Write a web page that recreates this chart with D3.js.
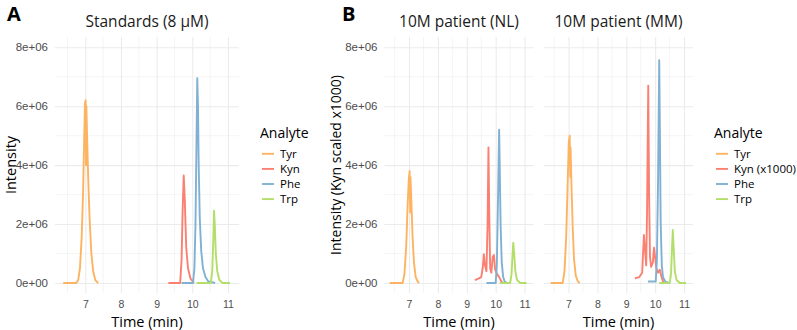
<!DOCTYPE html>
<html>
<head>
<meta charset="utf-8">
<script src="https://cdn.jsdelivr.net/npm/d3@7"></script>
<style>
body { margin: 0; background: #fff; }
svg { display: block; font-family: "Open Sans", sans-serif; }
</style>
</head>
<body>
<div id="chart"></div>
<script>
// ----------------------------------------------------------
// DATA -----------------------------------------------------
// ----------------------------------------------------------
var analytes = ["Tyr", "Kyn", "Phe", "Trp"];
var labels_a = ["Tyr", "Kyn", "Phe", "Trp"];
var labels_b = ["Tyr", "Kyn (x1000)", "Phe", "Trp"];
var x_ticks = [7, 8, 9, 10, 11];
var y_ticks = [0, 2e6, 4e6, 6e6, 8e6];

// traces: [time (min), intensity (x1e6)]
var std_tyr = [[6.38,0],[6.75,0],[6.80,0.1],[6.85,0.5],[6.90,1.6],[6.94,3.2],[6.97,5.0],[6.99,6.1],[7.01,6.2],[7.02,4.0],[7.03,6.0],[7.05,5.0],[7.08,3.6],[7.12,2.2],[7.17,1.0],[7.22,0.4],[7.28,0.1],[7.36,0]];
var std_kyn = [[9.33,0],[9.66,0],[9.70,0.8],[9.73,2.5],[9.76,3.65],[9.79,2.8],[9.83,1.2],[9.88,0.5],[9.95,0.15],[10.05,0]];
var std_phe = [[9.70,0],[10.02,0],[10.06,0.5],[10.09,2.0],[10.12,5.0],[10.14,6.95],[10.16,6.0],[10.18,4.0],[10.21,2.2],[10.25,1.1],[10.30,0.5],[10.37,0.2],[10.45,0.05],[10.64,0]];
var std_trp = [[10.12,0],[10.52,0],[10.56,0.4],[10.59,1.5],[10.61,2.45],[10.63,2.0],[10.66,1.0],[10.70,0.4],[10.76,0.1],[10.85,0],[11.06,0]];

var nl_tyr = [[6.33,0],[6.78,0],[6.84,0.3],[6.90,1.2],[6.95,2.6],[6.99,3.5],[7.02,3.8],[7.04,2.4],[7.05,3.6],[7.08,2.8],[7.12,1.6],[7.17,0.7],[7.23,0.2],[7.30,0.05],[7.35,0]];
var nl_kyn = [[9.28,0.1],[9.40,0.15],[9.50,0.2],[9.55,0.5],[9.59,0.98],[9.63,0.6],[9.68,0.4],[9.72,2.0],[9.75,4.6],[9.78,2.2],[9.81,0.5],[9.85,0.35],[9.90,0.9],[9.94,0.95],[9.98,0.45],[10.05,0.3],[10.12,0.2],[10.20,0.05],[10.25,0]];
var nl_phe = [[9.68,0],[10.00,0],[10.04,0.6],[10.08,2.8],[10.12,5.2],[10.14,4.0],[10.17,2.0],[10.21,0.7],[10.26,0.2],[10.31,0.05],[10.40,0]];
var nl_trp = [[10.14,0],[10.50,0],[10.55,0.3],[10.58,0.9],[10.61,1.37],[10.64,1.0],[10.68,0.4],[10.74,0.1],[10.85,0],[11.07,0]];

var mm_tyr = [[6.38,0],[6.80,0],[6.86,0.4],[6.92,1.6],[6.97,3.4],[7.01,4.8],[7.04,5.0],[7.06,3.6],[7.07,4.6],[7.10,3.4],[7.14,2.0],[7.19,0.8],[7.25,0.25],[7.32,0.05],[7.39,0]];
var mm_kyn = [[9.30,0.16],[9.45,0.2],[9.55,0.35],[9.58,1.0],[9.61,1.63],[9.65,1.1],[9.69,0.6],[9.72,2.5],[9.76,6.7],[9.79,3.0],[9.82,0.9],[9.86,0.55],[9.92,0.7],[9.96,1.2],[9.99,0.95],[10.04,0.5],[10.10,0.35],[10.16,0.45],[10.22,0.2],[10.29,0]];
var mm_phe = [[9.75,0.05],[10.02,0.05],[10.06,0.8],[10.10,3.5],[10.14,7.56],[10.16,5.5],[10.19,2.1],[10.23,0.6],[10.27,0.2],[10.35,0.05],[10.48,0]];
var mm_trp = [[10.14,0],[10.50,0],[10.55,0.3],[10.58,1.1],[10.61,1.8],[10.64,1.2],[10.68,0.4],[10.74,0.1],[10.85,0],[11.07,0]];

var colors = { Tyr: "#fdb462", Kyn: "#fb8072", Phe: "#80b1d3", Trp: "#b3de69" };

// ----------------------------------------------------------
// STRUCTURE ------------------------------------------------
// ----------------------------------------------------------
var svg = d3.select("#chart").append("svg")
.attr("width", 797)
.attr("height", 330);

var panels = [
{ left: 55, right: 239, title: "Standards (8 µM)", traces: [std_tyr, std_kyn, std_phe, std_trp] },
{ left: 384.5, right: 533.5, title: "10M patient (NL)", traces: [nl_tyr, nl_kyn, nl_phe, nl_trp] },
{ left: 544, right: 693, title: "10M patient (MM)", traces: [mm_tyr, mm_kyn, mm_phe, mm_trp] }
];
var top_y = 37, bottom_y = 293;

var yScale = d3.scaleLinear().domain([-0.34e6, 8.35e6]).range([bottom_y, top_y]);

panels.forEach(function(p, pi) {
var xScale = d3.scaleLinear().domain([6.15, 11.31]).range([p.left, p.right]);
var g = svg.append("g");

// minor grid
g.selectAll(".vminor").data([6.5, 7.5, 8.5, 9.5, 10.5]).enter().append("line")
.attr("x1", function(d) { return xScale(d); }).attr("x2", function(d) { return xScale(d); })
.attr("y1", top_y).attr("y2", bottom_y)
.style("stroke", "#ebebeb").style("stroke-width", 0.55);
g.selectAll(".hminor").data([1e6, 3e6, 5e6, 7e6]).enter().append("line")
.attr("x1", p.left).attr("x2", p.right)
.attr("y1", function(d) { return yScale(d); }).attr("y2", function(d) { return yScale(d); })
.style("stroke", "#ebebeb").style("stroke-width", 0.55);

// major grid + axes
var xAxis = g.append("g")
.attr("transform", "translate(0," + bottom_y + ")")
.call(d3.axisBottom(xScale).tickValues(x_ticks).tickSize(-(bottom_y - top_y)).tickFormat(d3.format("d")));
xAxis.select(".domain").remove();
xAxis.selectAll(".tick line").style("stroke", "#ebebeb").style("stroke-width", 1.07);
xAxis.selectAll(".tick text").style("font-size", "10.5px").style("fill", "#4d4d4d").attr("y", 14.5).attr("dy", 0);

var yAxis = g.append("g")
.attr("transform", "translate(" + p.left + ",0)")
.call(d3.axisLeft(yScale).tickValues(y_ticks).tickSize(-(p.right - p.left)).tickPadding(7)
.tickFormat(function(d) { return d3.format(".0e")(d).replace("e+", "e+0").replace("e-", "e-0"); }));
yAxis.select(".domain").remove();
yAxis.selectAll(".tick line").style("stroke", "#ebebeb").style("stroke-width", 1.07);
yAxis.selectAll(".tick text").style("font-size", "11.5px").style("fill", "#4d4d4d")
.style("display", pi == 2 ? "none" : null);

// traces
var line = d3.line()
.x(function(d) { return xScale(d[0]); })
.y(function(d) { return yScale(d[1] * 1e6); });
p.traces.forEach(function(tr, i) {
g.append("path")
.attr("d", line(tr))
.style("fill", "none")
.style("stroke", colors[analytes[i]])
.style("stroke-width", 1.9)
.style("stroke-linejoin", "round");
});

// title / strip
g.append("text")
.attr("x", (p.left + p.right) / 2).attr("y", 27)
.attr("text-anchor", "middle")
.style("font-size", "15.5px").style("fill", "#1a1a1a")
.text(p.title);

// x axis title
g.append("text")
.attr("x", (p.left + p.right) / 2).attr("y", 327)
.attr("text-anchor", "middle")
.style("font-size", "14.5px").style("fill", "#000")
.text("Time (min)");
});

// ----------------------------------------------------------
// TEXT -----------------------------------------------------
// ----------------------------------------------------------
svg.append("text").attr("x", 7).attr("y", 21)
.style("font-size", "20px").style("font-weight", "bold").text("A");
svg.append("text").attr("x", 342).attr("y", 21)
.style("font-size", "20px").style("font-weight", "bold").text("B");

svg.append("text")
.attr("transform", "translate(16,165) rotate(-90)")
.attr("text-anchor", "middle").style("font-size", "14.5px")
.text("Intensity");
svg.append("text")
.attr("transform", "translate(341,165) rotate(-90)")
.attr("text-anchor", "middle").style("font-size", "14px")
.text("Intensity (Kyn scaled x1000)");

// legends
function legend(x, labels) {
var lg = svg.append("g").attr("transform", "translate(" + x + ",0)");
lg.append("text").attr("x", 0).attr("y", 137.5)
.style("font-size", "14px").text("Analyte");
labels.forEach(function(l, i) {
var y = 153.8 + i * 15.1;
lg.append("line").attr("x1", 2).attr("x2", 14).attr("y1", y).attr("y2", y)
.style("stroke", colors[analytes[i]]).style("stroke-width", 1.9);
lg.append("text").attr("x", 20).attr("y", y + 4)
.style("font-size", "11.5px").style("fill", "#000").text(l);
});
}
legend(260, labels_a);
legend(714, labels_b);
</script>
</body>
</html>
